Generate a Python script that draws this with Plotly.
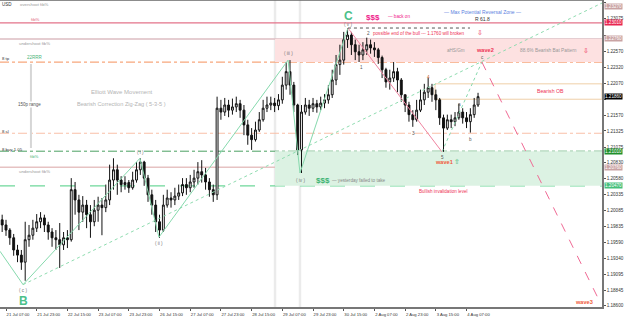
import plotly.graph_objects as go

# ---------------- data ----------------
bar_hours = list(range(-2, 248, 2))          # 2-hour bars, hour index
open_first = 1.1994
close = [1.1986,1.1978,1.1966,1.1947,1.1939,1.1928,1.1963,1.1970,1.1981,1.1991,
         1.1997,1.1986,1.1975,1.1966,1.1963,1.1955,1.1966,1.1963,1.2041,1.2025,
         1.2006,1.2017,1.2002,1.1991,1.2009,1.2017,1.2013,1.2025,1.2056,1.2072,
         1.2056,1.2049,1.2052,1.2044,1.2056,1.2072,1.2084,1.2059,1.2033,1.2017,
         1.1991,1.1978,1.2017,1.2028,1.2025,1.2031,1.2036,1.2049,1.2044,1.2053,
         1.2059,1.2069,1.2064,1.2053,1.2041,1.2033,1.2168,1.2162,1.2173,1.2165,
         1.2170,1.2175,1.2165,1.2142,1.2126,1.2119,1.2134,1.2150,1.2168,1.2173,
         1.2176,1.2172,1.2181,1.2204,1.2225,1.2204,1.2173,1.2103,1.2162,1.2173,
         1.2168,1.2175,1.2170,1.2176,1.2181,1.2189,1.2212,1.2236,1.2243,1.2275,
         1.2282,1.2267,1.2256,1.2251,1.2259,1.2267,1.2262,1.2259,1.2247,1.2228,
         1.2209,1.2215,1.2225,1.2212,1.2189,1.2173,1.2158,1.2150,1.2165,1.2181,
         1.2193,1.2200,1.2189,1.2181,1.2153,1.2137,1.2150,1.2147,1.2153,1.2162,
         1.2153,1.2147,1.2158,1.2173,1.2186]
high = [1.2002,1.1994,1.1981,1.1972,1.1955,1.1947,1.1991,1.1986,1.1994,1.2003,
        1.2006,1.2002,1.1991,1.1981,1.1978,1.1989,1.1975,1.1978,1.2059,1.2053,
        1.2033,1.2031,1.2025,1.2017,1.2025,1.2030,1.2028,1.2049,1.2080,1.2090,
        1.2080,1.2062,1.2062,1.2056,1.2069,1.2084,1.2090,1.2086,1.2064,1.2041,
        1.2025,1.2002,1.2033,1.2041,1.2037,1.2044,1.2049,1.2059,1.2059,1.2064,
        1.2072,1.2084,1.2087,1.2075,1.2059,1.2049,1.2186,1.2181,1.2184,1.2181,
        1.2183,1.2186,1.2181,1.2173,1.2150,1.2137,1.2147,1.2162,1.2181,1.2186,
        1.2186,1.2184,1.2190,1.2217,1.2240,1.2243,1.2209,1.2175,1.2173,1.2184,
        1.2181,1.2184,1.2181,1.2186,1.2190,1.2204,1.2228,1.2251,1.2267,1.2287,
        1.2293,1.2287,1.2275,1.2267,1.2271,1.2278,1.2275,1.2271,1.2262,1.2250,
        1.2231,1.2228,1.2240,1.2231,1.2215,1.2189,1.2178,1.2165,1.2181,1.2197,
        1.2206,1.2215,1.2206,1.2197,1.2184,1.2158,1.2158,1.2158,1.2162,1.2175,
        1.2168,1.2162,1.2168,1.2184,1.2192]
low = [1.1975,1.1969,1.1955,1.1938,1.1928,1.1916,1.1899,1.1952,1.1963,1.1975,
       1.1981,1.1975,1.1963,1.1952,1.1947,1.1919,1.1947,1.1950,1.1960,1.2002,
       1.1978,1.1991,1.1981,1.1966,1.1984,1.1991,1.1970,1.2006,1.2017,1.2041,
       1.2033,1.2037,1.2041,1.2036,1.2041,1.2052,1.2064,1.2047,1.2022,1.2002,
       1.1975,1.1966,1.1975,1.2013,1.2013,1.2017,1.2025,1.2031,1.2033,1.2037,
       1.2044,1.2049,1.2052,1.2041,1.2030,1.2022,1.2025,1.2150,1.2156,1.2154,
       1.2158,1.2162,1.2153,1.2126,1.2111,1.2103,1.2116,1.2131,1.2147,1.2162,
       1.2165,1.2162,1.2165,1.2175,1.2197,1.2189,1.2162,1.2095,1.2067,1.2158,
       1.2156,1.2162,1.2161,1.2165,1.2168,1.2175,1.2184,1.2204,1.2220,1.2236,
       1.2262,1.2251,1.2243,1.2240,1.2243,1.2251,1.2253,1.2248,1.2237,1.2215,
       1.2200,1.2197,1.2209,1.2193,1.2178,1.2162,1.2147,1.2139,1.2147,1.2162,
       1.2173,1.2184,1.2178,1.2165,1.2142,1.2100,1.2134,1.2137,1.2140,1.2150,
       1.2144,1.2137,1.2130,1.2153,1.2170]
opens = [open_first] + close[:-1]

tick_hours = list(range(0, 241, 16))
tick_text = ["21 Jul 07:00", "21 Jul 23:00", "22 Jul 15:00", "23 Jul 07:00",
             "23 Jul 23:00", "26 Jul 15:00", "27 Jul 07:00", "27 Jul 23:00",
             "28 Jul 15:00", "29 Jul 07:00", "29 Jul 23:00", "30 Jul 15:00",
             "2 Aug 07:00", "2 Aug 23:00", "3 Aug 15:00", "4 Aug 07:00"]
price_ticks = [1.23325, 1.23075, 1.22820, 1.22570, 1.22320, 1.22070, 1.21820,
               1.21570, 1.21325, 1.21075, 1.20830, 1.20580, 1.20335, 1.20085,
               1.19835, 1.19590, 1.19340, 1.19095, 1.18845, 1.18600]

# levels
overshoot_level = 1.2327
fib_level = 1.2301
undershoot_hi = 1.2276
tp_level = 1.2240
ob_top, ob_bottom = 1.2206, 1.2182
sl_level = 1.2129
buy_level = 1.2101
undershoot_lo = 1.2076
invalid_level = 1.2047
zone_start_hour = 140.2
vline_hours = [140.2, 153.2]
ob_start_hour = 223.6

# waves
wave_t = [-3.13, 8.9, 69.8, 79.7, 147.0, 153.2, 178.2]
wave_p = [1.1945, 1.1893, 1.2090, 1.1967, 1.2243, 1.2067, 1.2293]
bear_t = [178.2, 227.2]
bear_p = [1.2293, 1.2100]
proj_t = [248.0, 309.5]
proj_p = [1.2240, 1.1866]
abc_t = [227.2, 248.0]
abc_p = [1.2100, 1.2240]
trend_t = [8.9, 310.6]
trend_p = [1.1893, 1.2332]
top_t = [178.2, 241.8]
top_p = [1.2293, 1.2293]
range_t = [13.0, 13.0]
range_p = [1.2237, 1.2106]

X_RANGE = [-3.13, 310.6]
Y_RANGE = [1.18581, 1.23367]

FONT = "Liberation Sans, Arial, sans-serif"
PW, PH = 602.0, 307.0

fig = go.Figure()

shapes = []
shapes.append(dict(type="rect", xref="x", yref="y", x0=zone_start_hour, x1=X_RANGE[1],
                   y0=tp_level, y1=undershoot_hi, fillcolor="#fde1e1", line=dict(width=0), layer="below"))
shapes.append(dict(type="rect", xref="x", yref="y", x0=zone_start_hour, x1=X_RANGE[1],
                   y0=invalid_level, y1=buy_level, fillcolor="#dcf2e3", line=dict(width=0), layer="below"))
shapes.append(dict(type="rect", xref="x", yref="y", x0=ob_start_hour, x1=X_RANGE[1],
                   y0=ob_bottom, y1=ob_top, fillcolor="rgba(0,0,0,0)",
                   line=dict(color="#efcfa8", width=1), layer="below"))
for vh in vline_hours:
    shapes.append(dict(type="line", xref="x", yref="paper", x0=vh, x1=vh, y0=0, y1=1,
                       line=dict(color="#ebebeb", width=2.5), layer="below"))

def hline(y, color, width=1, dash="solid"):
    shapes.append(dict(type="line", xref="paper", yref="y", x0=0, x1=1, y0=y, y1=y,
                       line=dict(color=color, width=width, dash=dash), layer="below"))

hline(fib_level, "#e3738a", 1.2)
hline(undershoot_hi, "#dcbcc2", 1.5)
hline(tp_level, "#f7a77c", 1.2, "dashdot")
hline(sl_level, "#f9c0a8", 1.2, "dashdot")
hline(buy_level, "#4aa062", 1.0, "dashdot")
hline(undershoot_lo, "#e6c2c2", 1.5)
hline(invalid_level, "#6fd79a", 1.3, "longdash")
shapes.append(dict(type="line", xref="paper", yref="paper", x0=0, x1=1, y0=1, y1=1,
                   line=dict(color="#666", width=1.5)))

def line_trace(t, p, color, width=1, dash="solid"):
    fig.add_trace(go.Scatter(x=t, y=p, mode="lines", line=dict(color=color, width=width, dash=dash),
                             hoverinfo="skip", showlegend=False))

line_trace(range_t, range_p, "#d6d6d6", 2)
line_trace(trend_t, trend_p, "#8fdcb0", 1, "dot")
line_trace(wave_t, wave_p, "#86d9ad", 1)
line_trace(abc_t, abc_p, "#86d9ad", 1, "dot")
line_trace(bear_t, bear_p, "#f084a0", 1)
line_trace(proj_t, proj_p, "#f06a95", 1, "dash")
line_trace(top_t, top_p, "#555555", 1, "dot")

fig.add_trace(go.Candlestick(
    x=bar_hours, open=opens, high=high, low=low, close=close,
    increasing=dict(line=dict(color="#111", width=1), fillcolor="#ffffff"),
    decreasing=dict(line=dict(color="#111", width=1), fillcolor="#111111"),
    whiskerwidth=0, showlegend=False, hoverinfo="skip"))

ann = []

def txt(x, y, s, color="#888", size=4.6, anchor="left", bold=False, bg=None):
    d = dict(xref="paper", yref="paper", x=x / PW, y=1 - y / PH, text=("<b>%s</b>" % s) if bold else s,
             showarrow=False, xanchor=anchor, yanchor="middle",
             font=dict(family=FONT, size=size, color=color))
    if bg:
        d["bgcolor"] = bg
        d["borderpad"] = 0
    ann.append(d)

txt(0, 4, "USD", "#333", 4.5)
txt(18, 4, "overshoot fib%", "#999", 4.3)
txt(29, 19, "fib%", "#e0607a", 4.3)
txt(17, 43, "undershoot fib%", "#999", 4.3)
txt(0, 59, "8 tp", "#333", 4.3)
txt(25, 58, "22RRR", "#4bb47a", 4.5)
txt(17, 105, "150p range", "#555", 4.5, bg="white")
txt(121, 92, "Elliott Wave Movement", "#b4b4b4", 6.0, "center")
txt(121, 104, "Bearish Correction Zig-Zag ( 5-3-5 )", "#b4b4b4", 5.6, "center")
txt(0, 131, "8 sl", "#333", 4.3)
txt(0, 149, "8 buy 1.05", "#333", 4.3)
txt(28, 156, "fib%", "#4bb47a", 4.3)
txt(17, 171, "undershoot fib%", "#999", 4.3)

txt(482, 12, "\u2014 Max Potential Reversal Zone \u2014", "#5b7fe0", 5.0, "center")
txt(482, 19, "R 61.8", "#333", 5.0, "center")
txt(348, 16, "C", "#4cc08a", 12, "center", bold=True)
txt(364, 17, "$$$", "#f0208a", 8, "left", bold=True)
txt(386, 16, "\u2014 back on", "#f0208a", 4.6)
txt(348, 24, "( v )", "#777", 4.6, "center")
txt(365, 33, "2", "#555", 4.6)
txt(371, 33, "possible end of the bull --- 1.1760 will broken", "#ee3355", 4.6)
txt(480, 32, "\u21e9", "#ee3355", 7, "center")
txt(288, 54, "( iii )", "#777", 4.6, "center")
txt(361, 67, "1", "#555", 4.6, "center")
txt(413, 133, "3", "#555", 4.6, "center")
txt(428, 77, "4", "#c06030", 4.6, "center")
txt(442, 157, "5", "#555", 4.6, "center")
txt(459, 105, "a", "#555", 4.6, "center")
txt(470, 139, "b", "#555", 4.6, "center")
txt(482, 58, "c", "#555", 4.6, "center")
txt(445, 51, "aHS/Gm", "#999", 4.6)
txt(474, 50, "wave2", "#ee3355", 5.6, bold=True)
txt(518, 51, "88.6% Bearish Bat Pattern", "#999", 4.8)
txt(586, 51, "\u21e9", "#ee3355", 7, "center")
txt(550, 91, "Bearish OB", "#ee3355", 5.2, "center")
txt(140, 152, "( i )", "#777", 4.6, "center")
txt(159, 243, "( ii )", "#777", 4.6, "center")
txt(300, 180, "( iv )", "#777", 4.6, "center")
txt(314, 180, "$$$", "#3cb371", 8, bold=True)
txt(330, 180, "\u2014 yesterday failed to take", "#888", 4.6)
txt(417, 191, "Bullish invalidation level", "#ee3355", 4.6)
txt(433, 162, "wave1", "#f05a3a", 5.6, bold=True)
txt(457, 161, "\u21e7", "#3cb371", 7, "center")
txt(595, 302, "wave3", "#f05a3a", 5.6, "right", bold=True)
txt(23, 290, "( c )", "#777", 4.6, "center")
txt(23, 301, "B", "#4cc08a", 12, "center", bold=True)

box_prices = []

def pbox(price, bg, fg="white"):
    box_prices.append(price)
    ann.append(dict(xref="paper", yref="y", x=1.0, y=price, xanchor="left", yanchor="middle",
                    text="%.5f" % price, showarrow=False, bgcolor=bg, borderpad=0, xshift=2,
                    font=dict(family=FONT, size=4.6, color=fg)))

pbox(overshoot_level, "#c9a3a3")
pbox(fib_level, "#e8254f")
pbox(undershoot_hi, "#c9a3a3")
pbox(close[-1], "#000000")
pbox(buy_level, "#1f8f2a")
pbox(undershoot_lo, "#c9a3a3")
pbox(invalid_level, "#45c07a")

# tick labels hidden where a price box covers them (as on the terminal)
tick_labels = ["" if min(abs(v - b) for b in box_prices) < 0.00062 else "%.5f" % v
               for v in price_ticks]

fig.update_layout(
    width=625, height=317,
    margin=dict(l=0, r=23, t=0, b=10),
    paper_bgcolor="white", plot_bgcolor="white",
    shapes=shapes, annotations=ann, showlegend=False,
    xaxis=dict(range=X_RANGE, tickvals=tick_hours, ticktext=tick_text, showgrid=False,
               zeroline=False, showline=True, linecolor="#777", linewidth=1.5,
               ticks="outside", ticklen=2, tickcolor="#555", ticklabelshift=12,
               tickfont=dict(family=FONT, size=4.2, color="#333"),
               rangeslider=dict(visible=False), fixedrange=True),
    yaxis=dict(range=Y_RANGE, side="right", tickvals=price_ticks,
               ticktext=tick_labels, showgrid=False, zeroline=False,
               showline=True, linecolor="#777", linewidth=1.5, ticks="outside", ticklen=2,
               tickcolor="#555", tickfont=dict(family=FONT, size=4.6, color="#333"),
               fixedrange=True),
)

fig.write_html("out.html")
